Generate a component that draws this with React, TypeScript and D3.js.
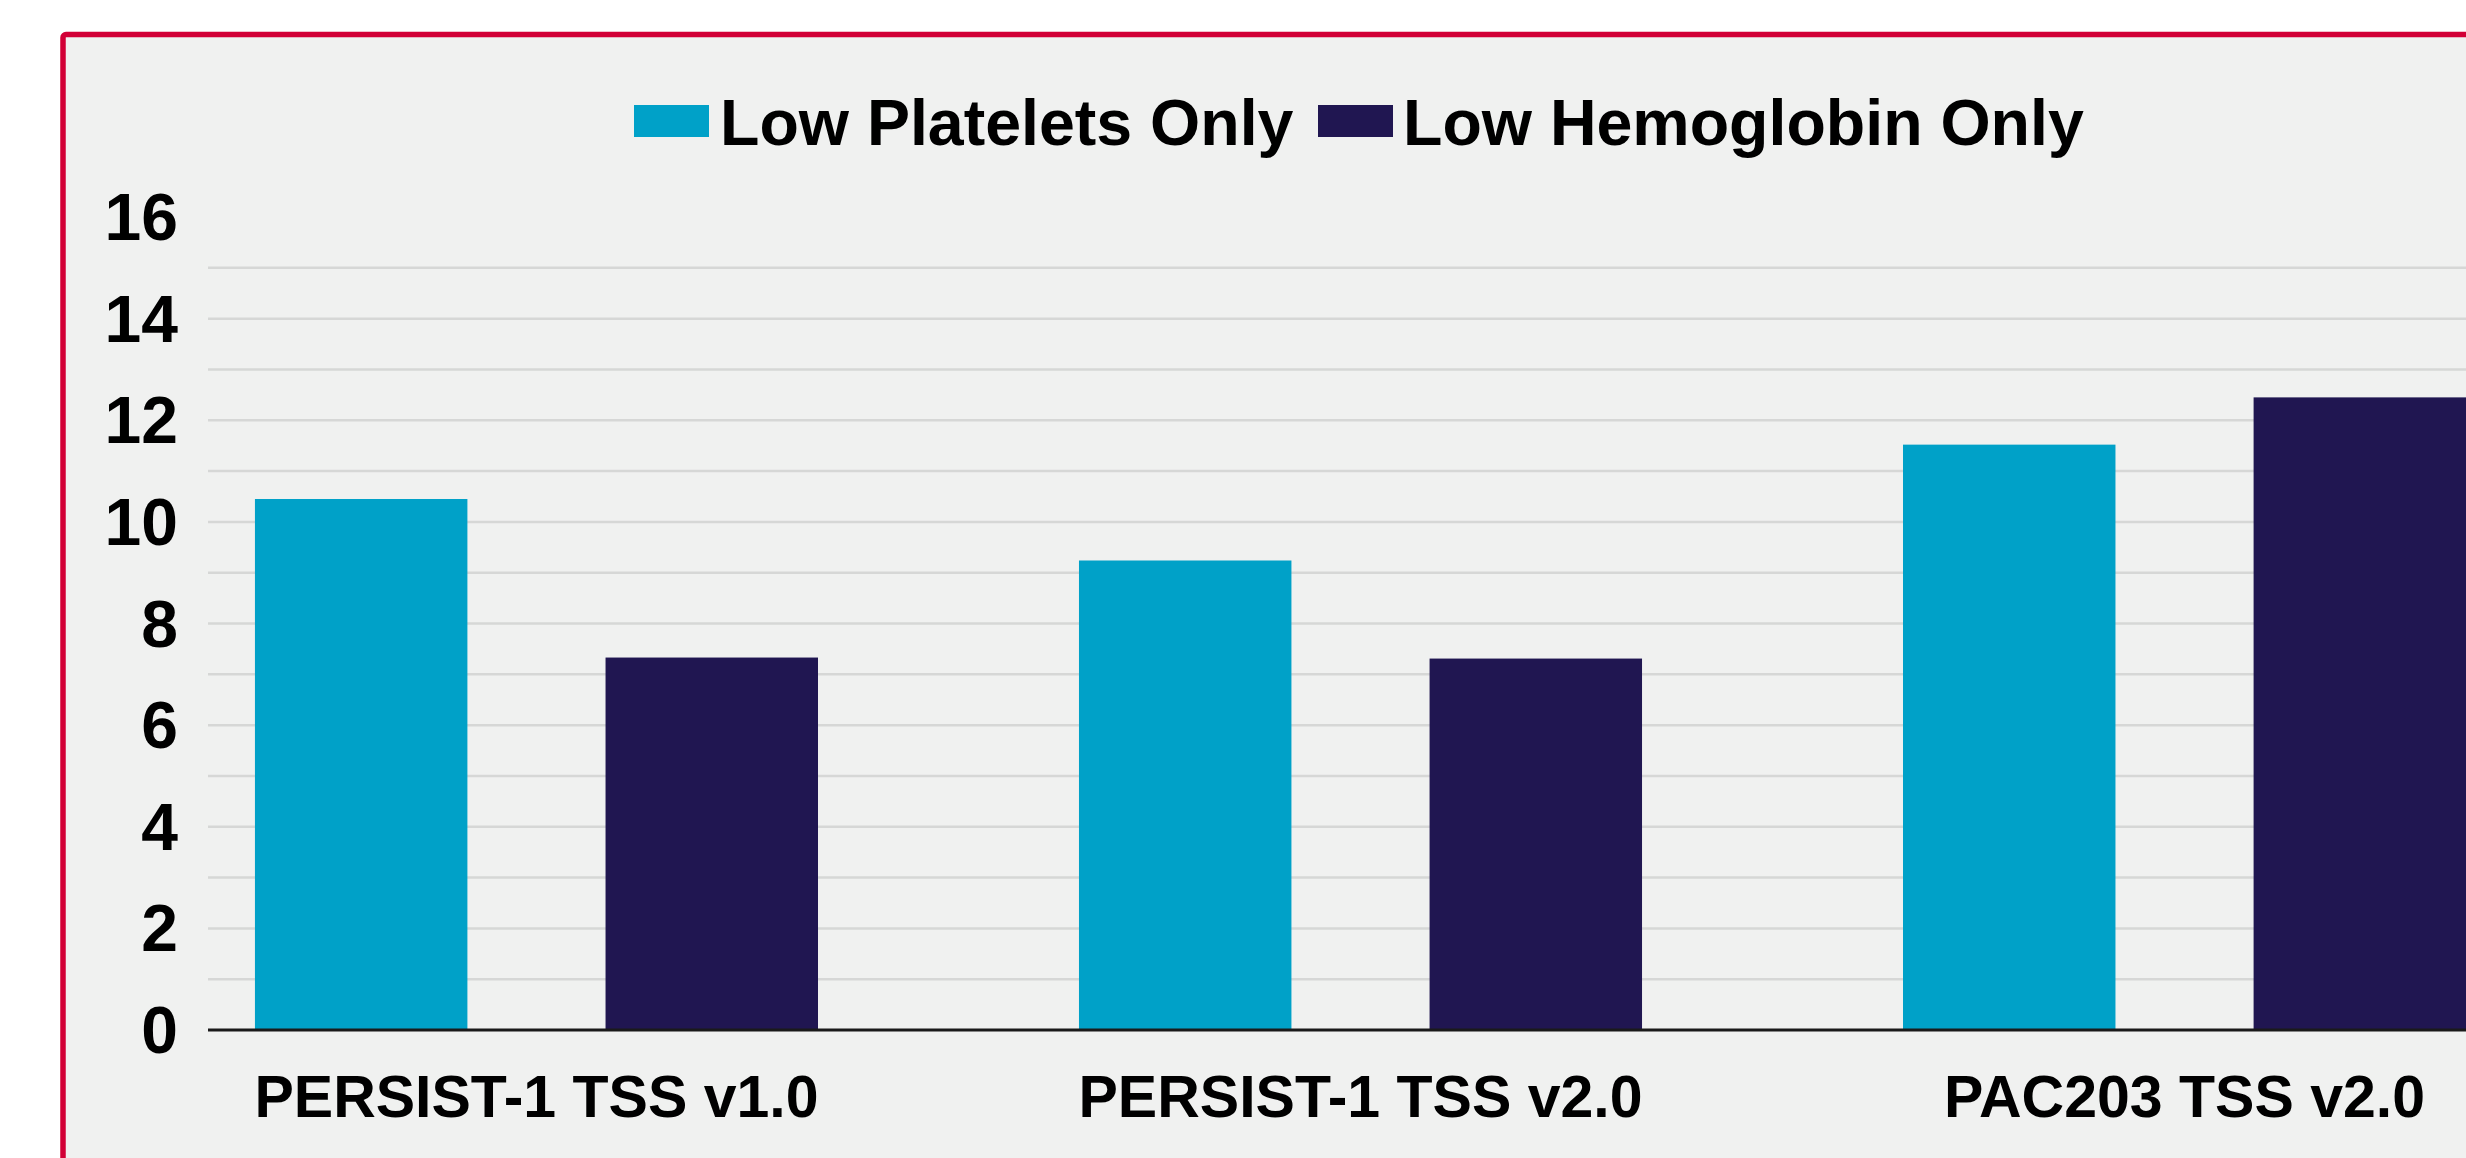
import React from "react";
import * as d3 from "d3";

const categories = ["PERSIST-1 TSS v1.0", "PERSIST-1 TSS v2.0", "PAC203 TSS v2.0"];
const seriesNames = ["Low Platelets Only", "Low Hemoglobin Only"];
const lowPlatelets = [10.45, 9.24, 11.52];
const lowHemoglobin = [7.33, 7.31, 12.45];
const yTickLabels = [0, 2, 4, 6, 8, 10, 12, 14, 16];
const gridValues = [1, 2, 3, 4, 5, 6, 7, 8, 9, 10, 11, 12, 13, 14, 15];
const colors = ["#00a1c8", "#201651"];

const W = 2466;
const H = 1158;
const FONT = "'Liberation Sans', Arial, Helvetica, sans-serif";

export default function App() {
  const plotLeft = 208;
  const plotRight = W;
  const y = d3.scaleLinear().domain([0, 16]).range([1030, 217]);
  const x0 = d3
    .scaleBand<string>()
    .domain(categories)
    .range([124.5, 2596.5])
    .paddingInner(0.3167)
    .paddingOuter(0.1583);
  const x1 = d3
    .scaleBand<number>()
    .domain([0, 1])
    .range([0, x0.bandwidth()])
    .paddingInner(0.394)
    .paddingOuter(0);
  const series = [lowPlatelets, lowHemoglobin];

  const legendItems = [
    { swatchX: 634, textX: 720 },
    { swatchX: 1318, textX: 1403 },
  ];

  return (
    <svg
      width={W}
      height={H}
      viewBox={`0 0 ${W} ${H}`}
      style={{ position: "absolute", left: 0, top: 0, display: "block" }}
    >
      <rect x={0} y={0} width={W} height={H} fill="#ffffff" />
      {/* panel */}
      <rect
        x={63}
        y={34.5}
        width={W + 40}
        height={H + 40}
        rx={3}
        fill="#f0f1f0"
        stroke="#d20036"
        strokeWidth={5.5}
      />
      {/* gridlines */}
      {gridValues.map((v) => (
        <line
          key={v}
          x1={plotLeft}
          x2={plotRight}
          y1={y(v)}
          y2={y(v)}
          stroke="#d6d7d6"
          strokeWidth={2.5}
        />
      ))}
      {/* bars */}
      {categories.map((c, i) => (
        <g key={c} transform={`translate(${x0(c)},0)`}>
          {series.map((s, j) => (
            <rect
              key={j}
              x={x1(j)}
              y={y(s[i])}
              width={x1.bandwidth()}
              height={y(0) - y(s[i])}
              fill={colors[j]}
            />
          ))}
        </g>
      ))}
      {/* baseline */}
      <line
        x1={plotLeft}
        x2={plotRight}
        y1={y(0)}
        y2={y(0)}
        stroke="#1a1a1a"
        strokeWidth={3}
      />
      {/* y tick labels */}
      {yTickLabels.map((v) => (
        <text
          key={v}
          x={178}
          y={y(v)}
          dy="0.35em"
          textAnchor="end"
          fontFamily={FONT}
          fontWeight="bold"
          fontSize={66}
          fill="#000"
        >
          {v}
        </text>
      ))}
      {/* x labels */}
      {categories.map((c) => (
        <text
          key={c}
          x={(x0(c) as number) + x0.bandwidth() / 2}
          y={1117}
          textAnchor="middle"
          fontFamily={FONT}
          fontWeight="bold"
          fontSize={59}
          fill="#000"
        >
          {c}
        </text>
      ))}
      {/* legend */}
      {seriesNames.map((n, j) => (
        <g key={n}>
          <rect
            x={legendItems[j].swatchX}
            y={105}
            width={75}
            height={32}
            fill={colors[j]}
          />
          <text
            x={legendItems[j].textX}
            y={145}
            fontFamily={FONT}
            fontWeight="bold"
            fontSize={64.5}
            fill="#000"
          >
            {n}
          </text>
        </g>
      ))}
    </svg>
  );
}
